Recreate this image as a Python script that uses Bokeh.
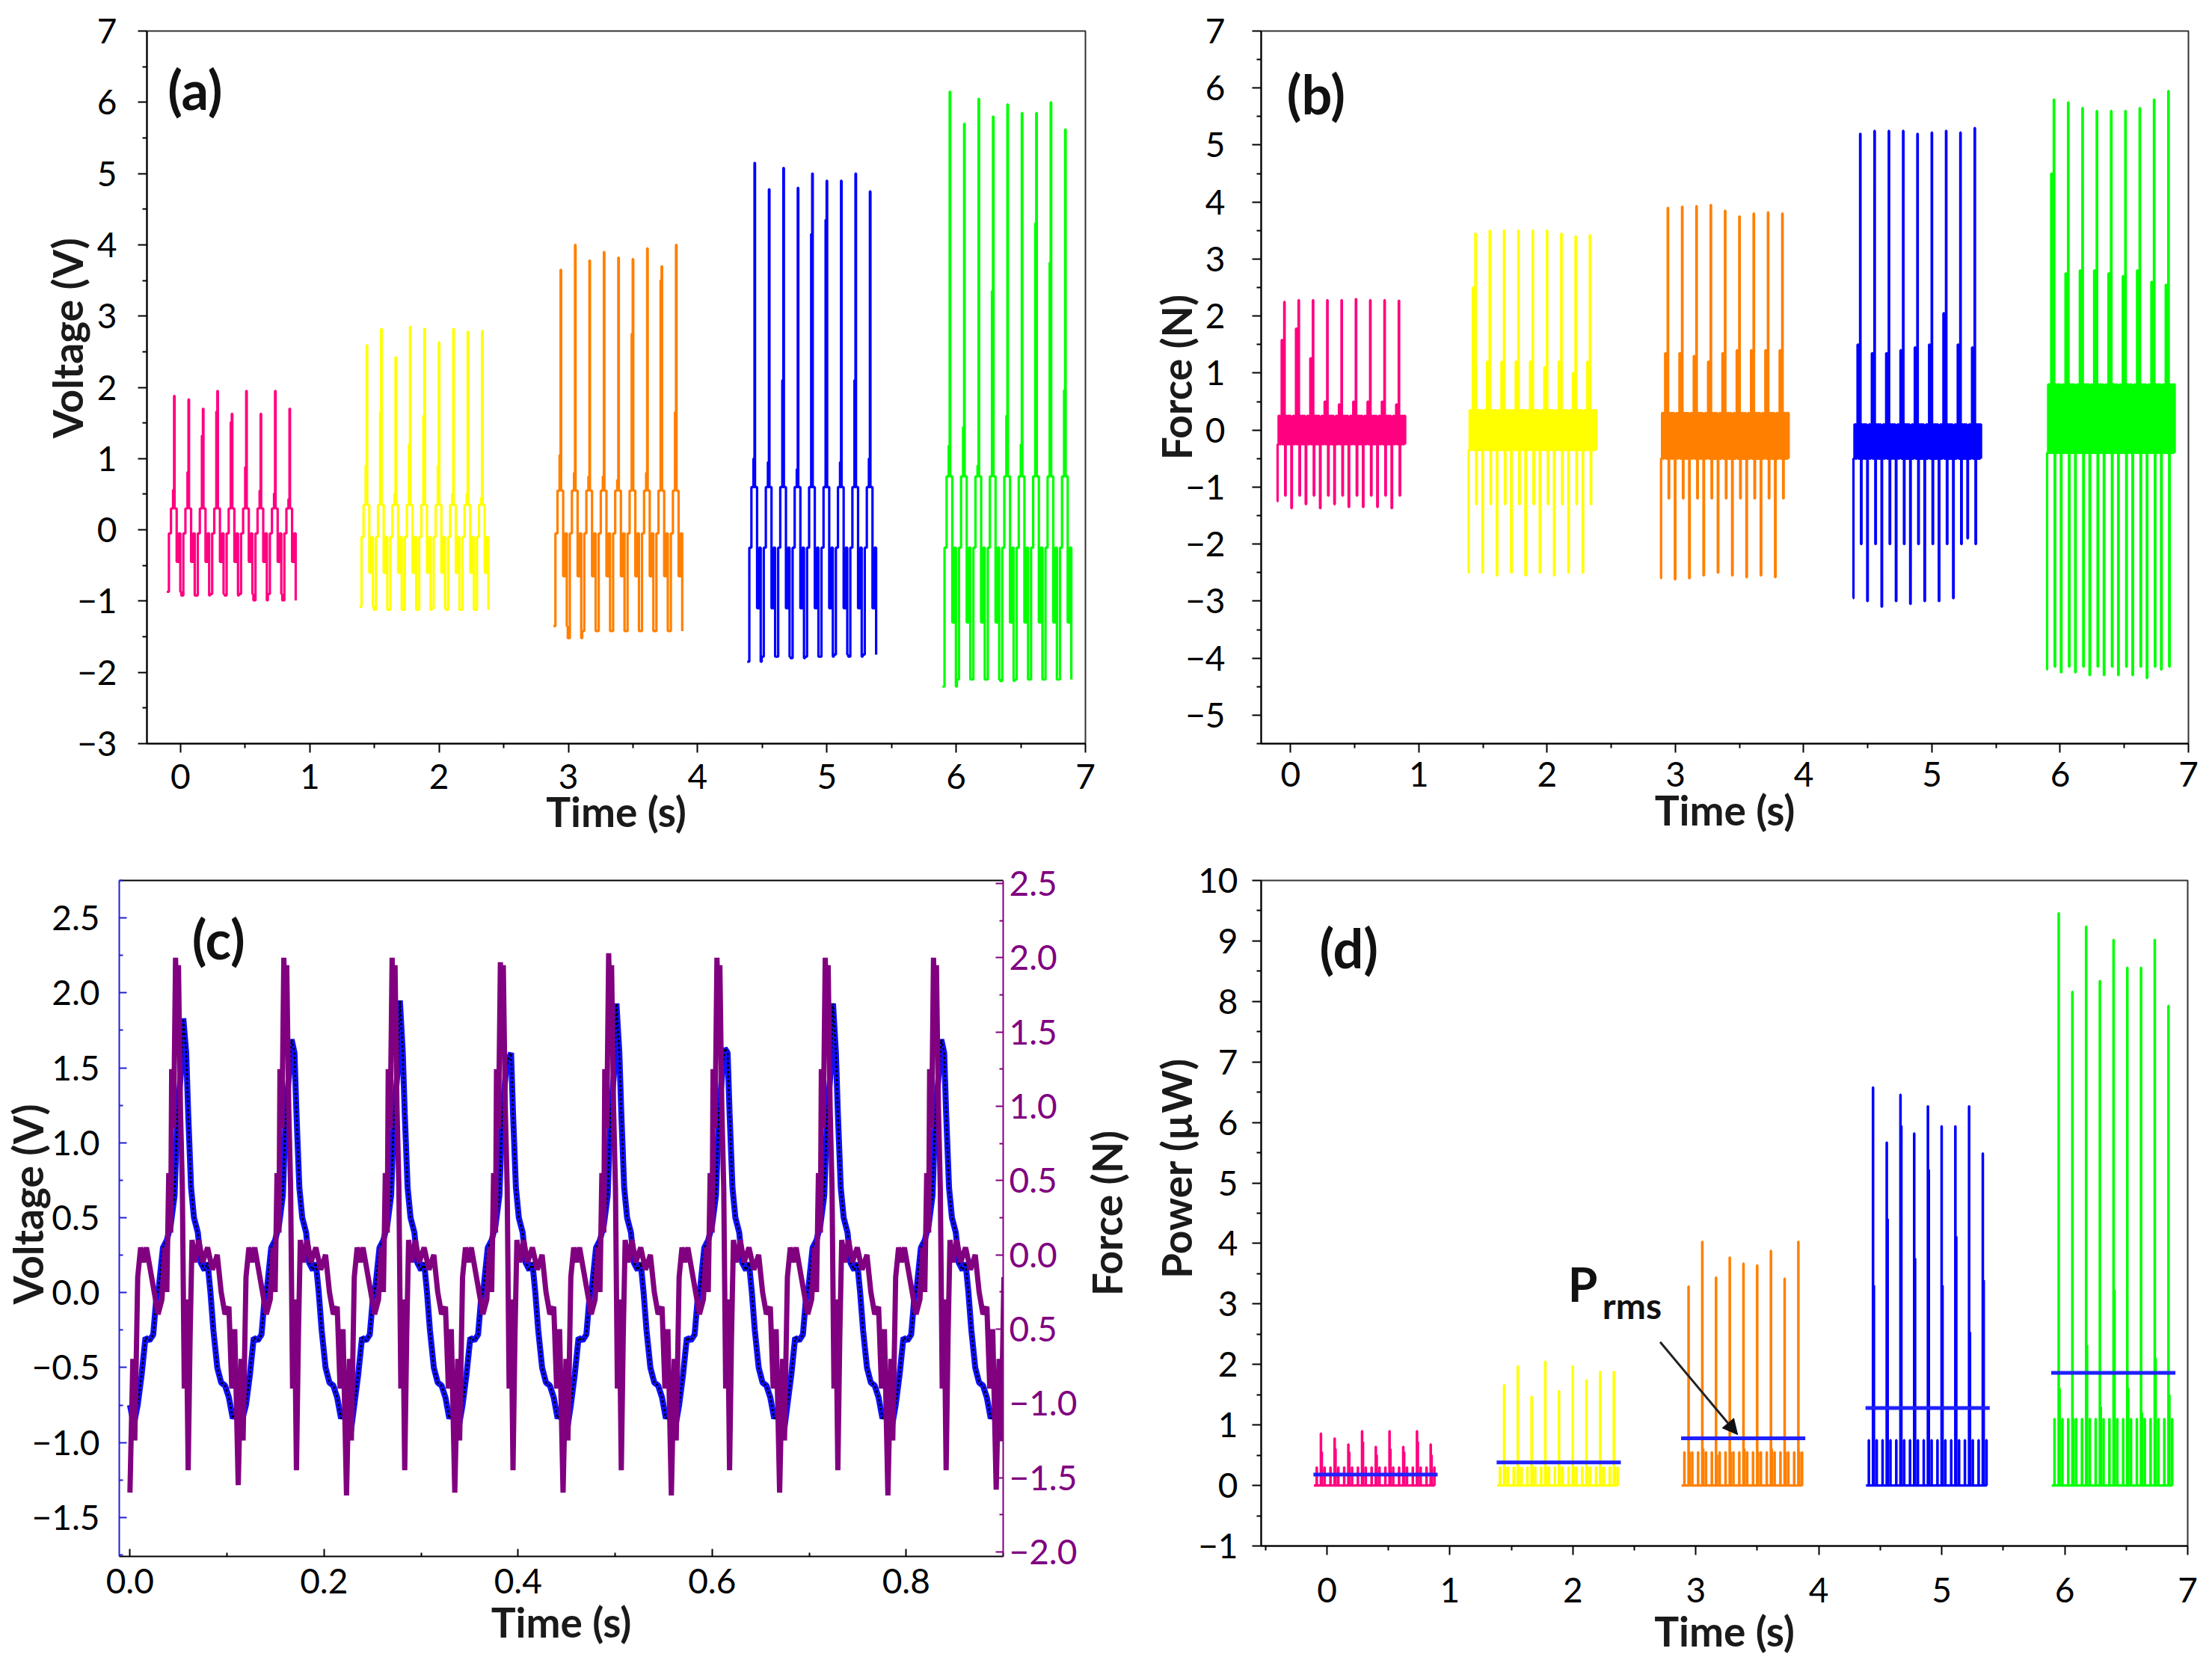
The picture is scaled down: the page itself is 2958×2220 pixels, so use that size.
from bokeh.plotting import figure
from bokeh.layouts import column, row
from bokeh.models import Range1d, LinearAxis, FixedTicker, Label, Arrow, NormalHead
from bokeh.embed import file_html
from bokeh.resources import INLINE

FONT = "Lato"
NB = "\u00a0"  # padding to move an axis title off the frame centre

# five loading sets, same timing in (a), (b) and (d)
set_start = [-0.10, 1.39, 2.89, 4.39, 5.90]
period = 0.1116
set_colors = ["#ff0080", "#ffff00", "#ff8000", "#0000ff", "#00ff00"]

# (a) voltage, per cycle: spike top, secondary top, trough; per set: band levels
a_peak = [
    [1.88, 1.83, 1.70, 1.95, 1.63, 1.95, 1.63, 1.95, 1.70],
    [2.59, 2.82, 2.42, 2.85, 2.82, 2.63, 2.82, 2.78, 2.79],
    [3.65, 4.00, 3.78, 3.90, 3.82, 3.80, 3.95, 3.70, 4.00],
    [5.15, 4.78, 5.08, 4.80, 5.00, 4.90, 4.90, 5.00, 4.75],
    [6.15, 5.70, 6.05, 5.80, 5.97, 5.85, 5.85, 6.00, 5.62],
]
a_second = [
    [0.56, 0.81, 1.32, 1.66, 1.51, 0.88, 0.55, 0.51, 0.43],
    [0.90, 1.65, 0.50, 1.20, 1.60, 0.90, 0.50, 0.50, 0.45],
    [1.05, 0.80, 0.75, 0.75, 0.70, 2.75, 0.80, 3.50, 1.65],
    [1.00, 0.95, 2.10, 0.85, 4.15, 4.35, 0.95, 2.10, 1.00],
    [1.18, 1.44, 0.90, 3.35, 1.60, 1.20, 4.30, 3.75, 1.96],
]
a_trough = [
    [-0.87, -0.92, -0.92, -0.90, -0.92, -0.90, -0.99, -0.90, -0.99],
    [-1.08, -1.12, -1.12, -1.12, -1.12, -1.10, -1.12, -1.12, -1.12],
    [-1.35, -1.52, -1.42, -1.42, -1.42, -1.42, -1.42, -1.42, -1.42],
    [-1.85, -1.78, -1.78, -1.80, -1.78, -1.78, -1.75, -1.78, -1.75],
    [-2.20, -2.10, -2.10, -2.10, -2.12, -2.10, -2.10, -2.10, -2.10],
]
a_upper = [0.30, 0.35, 0.55, 0.60, 0.75]
a_mid = [-0.05, -0.10, -0.05, -0.25, -0.25]
a_lower = [-0.45, -0.60, -0.65, -1.10, -1.30]

# (b) force
b_peak = [
    [2.25, 2.28, 2.28, 2.28, 2.28, 2.30, 2.28, 2.28, 2.27],
    [3.45, 3.50, 3.50, 3.50, 3.50, 3.50, 3.45, 3.40, 3.42],
    [3.90, 3.92, 3.93, 3.95, 3.85, 3.75, 3.80, 3.82, 3.80],
    [5.20, 5.25, 5.25, 5.25, 5.20, 5.22, 5.25, 5.22, 5.30],
    [5.80, 5.75, 5.65, 5.60, 5.60, 5.60, 5.65, 5.80, 5.95],
]
b_second = [
    [1.58, 1.78, 1.26, 0.50, 0.45, 0.50, 0.50, 0.50, 0.45],
    [2.50, 1.20, 1.20, 1.20, 1.20, 1.10, 1.20, 1.00, 1.20],
    [1.35, 1.35, 1.30, 1.20, 1.35, 1.40, 1.40, 1.40, 1.40],
    [1.50, 1.35, 1.35, 1.40, 1.45, 1.50, 2.05, 1.50, 1.45],
    [4.50, 2.75, 2.80, 2.80, 2.75, 2.70, 2.80, 2.60, 2.55],
]
b_dip = [
    [-1.25, -1.37, -1.30, -1.37, -1.30, -1.35, -1.35, -1.35, -1.37],
    [-2.50, -2.50, -2.55, -2.50, -2.55, -2.50, -2.55, -2.50, -2.50],
    [-2.60, -2.62, -2.60, -2.55, -2.50, -2.55, -2.58, -2.55, -2.58],
    [-2.95, -3.00, -3.10, -3.00, -3.05, -3.00, -3.00, -2.95, -1.90],
    [-4.20, -4.25, -4.25, -4.30, -4.30, -4.30, -4.30, -4.35, -4.20],
]
b_dip2 = [-1.15, -1.30, -1.20, -2.00, -4.15]
b_band_hi = [0.25, 0.35, 0.30, 0.10, 0.80]
b_band_lo = [-0.25, -0.35, -0.50, -0.50, -0.40]

# (d) power
d_peak = [
    [0.86, 0.78, 0.68, 0.90, 0.64, 0.90, 0.64, 0.90, 0.68],
    [1.66, 1.97, 1.47, 2.05, 1.56, 1.97, 1.74, 1.88, 1.88],
    [3.29, 4.03, 3.44, 3.77, 3.67, 3.64, 3.88, 3.42, 4.03],
    [6.58, 5.67, 6.46, 5.82, 6.27, 5.94, 5.94, 6.27, 5.49],
    [9.46, 8.16, 9.24, 8.34, 9.02, 8.56, 8.56, 9.02, 7.93],
]
d_second = [
    [0.55, 0.60, 0.55, 0.72, 0.50, 0.60, 0.55, 0.72, 0.50],
    [0.30, 0.30, 0.30, 0.30, 0.30, 0.30, 0.30, 0.30, 0.30],
    [0.55, 0.60, 0.50, 0.55, 0.60, 0.55, 0.60, 0.55, 0.55],
    [3.30, 4.40, 5.94, 3.75, 5.22, 3.30, 4.11, 2.53, 3.39],
    [1.60, 1.10, 2.32, 1.30, 3.23, 1.60, 1.20, 2.10, 1.50],
]
d_band = [0.30, 0.30, 0.55, 0.75, 1.10]
p_rms = [0.18, 0.38, 0.78, 1.28, 1.86]

# (c) first set in detail: one cycle of voltage / force, then per-cycle extremes
c_volt_dt = [0.000, 0.004, 0.008, 0.012, 0.016, 0.020, 0.024, 0.027, 0.030, 0.034,
             0.038, 0.042, 0.046, 0.049, 0.053, 0.055, 0.058, 0.060, 0.063, 0.066,
             0.070, 0.073, 0.077, 0.080, 0.083, 0.086, 0.090, 0.094, 0.098, 0.102,
             0.106, 0.109]
c_volt_shape = [-0.75, -0.88, -0.75, -0.55, -0.30, -0.32, -0.28, -0.05, 0.05, 0.30,
                0.35, 0.45, 0.65, 1.20, 1.50, 1.80, 1.60, 1.20, 0.70, 0.50,
                0.40, 0.20, 0.15, 0.20, 0.00, -0.25, -0.50, -0.60, -0.62, -0.70,
                -0.84, -0.80]
c_force_dt = [0.000, 0.003, 0.005, 0.008, 0.011, 0.014, 0.017, 0.021, 0.025, 0.029,
              0.033, 0.036, 0.038, 0.040, 0.042, 0.043, 0.045, 0.047, 0.049, 0.050,
              0.052, 0.054, 0.056, 0.058, 0.060, 0.062, 0.064, 0.067, 0.071, 0.075,
              0.080, 0.085, 0.090, 0.094, 0.098, 0.102, 0.105, 0.108]
c_force_shape = [-1.60, -0.70, -1.25, -0.15, 0.05, -0.05, 0.05, -0.10, -0.25, -0.40,
                 -0.30, 0.05, -0.25, 0.55, 0.15, 1.25, 0.85, 2.00, 1.45, 1.95,
                 1.00, 0.45, -0.90, -0.30, -1.45, -0.55, 0.10, -0.05, 0.10, -0.05,
                 0.05, -0.10, 0.00, -0.25, -0.40, -0.35, -0.90, -0.50]
c_volt_peak = [1.83, 1.69, 1.95, 1.55, 1.93, 1.63, 1.93, 1.69, 1.70]
c_volt_trough = [-0.88, -0.85, -0.95, -0.90, -0.92, -0.90, -0.95, -0.90, -0.90]
c_force_peak = [2.00, 2.00, 2.00, 1.97, 2.03, 2.00, 2.00, 2.00, 2.00]
c_force_trough = [-1.60, -1.55, -1.62, -1.60, -1.60, -1.62, -1.60, -1.62, -1.58]


def minus(v, d=0):
    s = f"{abs(v):.{d}f}"
    return ("\u2212" + s) if v < 0 else s


def make_fig(xr, yr, fw, fh, bl, br, bt, bb):
    p = figure(frame_width=fw, frame_height=fh, x_range=Range1d(*xr), y_range=Range1d(*yr),
               min_border_left=bl, min_border_right=br, min_border_top=bt, min_border_bottom=bb,
               output_backend="svg", toolbar_location=None)
    p.grid.visible = False
    p.outline_line_color = "#333333"
    p.outline_line_width = 2
    return p


def title_style(ax, label, als):
    ax.axis_label = label
    ax.axis_label_text_font = FONT
    ax.axis_label_text_font_size = "55px"
    ax.axis_label_text_font_style = "bold"
    ax.axis_label_text_color = "#1a1a1a"
    ax.axis_label_standoff = als


def style_axis(ax, label, ticks, minor, d=0, tick_out=12, tick_in=0, mls=10, als=5,
               line_color="black", label_color="black", overrides=None):
    ax.ticker = FixedTicker(ticks=ticks, minor_ticks=minor)
    ax.major_label_overrides = overrides if overrides else {t: minus(t, d) for t in ticks}
    if label:
        title_style(ax, label, als)
    ax.major_label_text_font = FONT
    ax.major_label_text_font_size = "46px"
    ax.major_label_text_color = label_color
    ax.major_label_standoff = mls
    ax.axis_line_color = line_color
    ax.axis_line_width = 2
    ax.major_tick_line_color = line_color
    ax.minor_tick_line_color = line_color
    ax.major_tick_line_width = 2
    ax.minor_tick_line_width = 2
    ax.major_tick_out = tick_out
    ax.major_tick_in = tick_in
    ax.minor_tick_out = tick_out // 2
    ax.minor_tick_in = tick_in // 2


def panel_label(p, x, y, text):
    p.add_layout(Label(x=x, y=y, text=text, text_font=FONT, text_font_size="72px",
                       text_font_style="bold", text_baseline="top", text_color="#111111"))


def cycles(g, pattern_fn):
    xs, ys = [], []
    for k in range(9):
        t = set_start[g] + 0.05 + k * period
        for dt, v in pattern_fn(g, k):
            xs.append(t + dt)
            ys.append(v)
    return xs, ys


def pat_a(g, k):
    T, S, P = a_trough[g][k], a_second[g][k], a_peak[g][k]
    U, M, L = a_upper[g], a_mid[g], a_lower[g]
    return [(-0.056, T), (-0.040, M), (-0.024, U), (-0.008, S), (0.0, P), (0.004, U),
            (0.020, L), (0.036, M), (0.048, T)]


def pat_b(g, k):
    D, S, P = b_dip[g][k], b_second[g][k], b_peak[g][k]
    HI, LO, D2 = b_band_hi[g], b_band_lo[g], b_dip2[g]
    return [(-0.056, D), (-0.052, LO), (-0.044, HI), (-0.036, LO), (-0.028, HI), (-0.020, S),
            (-0.014, LO), (-0.006, HI), (0.0, P), (0.003, LO), (0.007, D2), (0.011, HI),
            (0.019, LO), (0.027, HI), (0.035, LO), (0.043, HI), (0.050, LO)]


def pat_d(g, k):
    S, P, BT = d_second[g][k], d_peak[g][k], d_band[g]
    return [(-0.056, 0.0), (-0.034, BT), (-0.032, 0.0), (0.0, P), (0.002, 0.0),
            (0.007, S), (0.009, 0.0), (0.030, BT), (0.032, 0.0)]


int_x = list(range(0, 8))
half_x = [i + 0.5 for i in range(-1, 7)]

# ---- (a) voltage
pa = make_fig((-0.26, 7), (-3, 7), 1255, 953, 196, 19, 41, 108)
for g in range(5):
    xs, ys = cycles(g, pat_a)
    pa.step(xs, ys, mode="after", line_color=set_colors[g], line_width=3.2)
style_axis(pa.below[0], "Time (s)", int_x, half_x, mls=15, als=-6)
style_axis(pa.left[0], NB * 10 + "Voltage (V)", list(range(-3, 8)),
           [i + 0.5 for i in range(-3, 7)], mls=28, als=-23)
panel_label(pa, -0.10, 6.64, "(a)")

# ---- (b) force
pb = make_fig((-0.23, 7), (-5.5, 7), 1240, 953, 216, 14, 41, 108)
for g in range(5):
    xs, ys = cycles(g, pat_b)
    pb.step(xs, ys, mode="after", line_color=set_colors[g], line_width=3.2)
style_axis(pb.below[0], "Time (s)", int_x, half_x, mls=12, als=-5)
style_axis(pb.left[0], NB * 2 + "Force (N)", list(range(-5, 8)),
           [i + 0.5 for i in range(-6, 7)], mls=36, als=-24)
panel_label(pb, -0.03, 6.47, "(b)")

# ---- (c) voltage and force of the first set
pc = make_fig((-0.011, 0.9), (-1.76, 2.75), 1182, 904, 150, 100, 57, 141)
pc.outline_line_color = None
pc.extra_y_ranges = {"force": Range1d(-2.03, 2.52)}
vx, vy, fx, fy = [], [], [], []
v_pk, v_tr = c_volt_shape.index(max(c_volt_shape)), c_volt_shape.index(min(c_volt_shape))
f_pk, f_tr = c_force_shape.index(max(c_force_shape)), c_force_shape.index(min(c_force_shape))
for k in range(9):
    t0 = k * period
    for i, (dt, v) in enumerate(zip(c_volt_dt, c_volt_shape)):
        if t0 + dt > 0.902:
            break
        v = c_volt_peak[k] if i == v_pk else (c_volt_trough[k] if i == v_tr else v)
        vx.append(t0 + dt)
        vy.append(v)
    for i, (dt, v) in enumerate(zip(c_force_dt, c_force_shape)):
        if t0 + dt > 0.902:
            break
        v = c_force_peak[k] if i == f_pk else (c_force_trough[k] if i == f_tr else v)
        fx.append(t0 + dt)
        fy.append(v)
pc.line(vx, vy, line_color="#1010ff", line_width=8)
pc.line(vx, vy, line_color="black", line_width=2.5, line_dash="3 3")
pc.line(fx, fy, line_color="#800080", line_width=7, y_range_name="force")

c_x_ticks = [0.0, 0.2, 0.4, 0.6, 0.8]
style_axis(pc.below[0], "Time (s)", c_x_ticks, [0.1, 0.3, 0.5, 0.7, 0.9], d=1,
           tick_out=0, tick_in=10, mls=16, als=2)
c_y_ticks = [-1.5, -1.0, -0.5, 0.0, 0.5, 1.0, 1.5, 2.0, 2.5]
style_axis(pc.left[0], NB * 3 + "Voltage (V)", c_y_ticks, [-1.75, -1.25, -0.75, -0.25, 0.25,
           0.75, 1.25, 1.75, 2.25, 2.75], d=1, tick_out=0, tick_in=10, mls=26, als=-30,
           line_color="#2020d0")
rax = LinearAxis(y_range_name="force")
pc.add_layout(rax, "right")
c_r_ticks = [-2.0, -1.5, -1.0, -0.5, 0.0, 0.5, 1.0, 1.5, 2.0, 2.5]
c_r_labels = {t: minus(t, 1) for t in c_r_ticks}
c_r_labels[-0.5] = "0.5"
style_axis(rax, None, c_r_ticks, [-1.75, -1.25, -0.75, -0.25, 0.25, 0.75, 1.25, 1.75, 2.25],
           d=1, tick_out=0, tick_in=10, mls=8, line_color="#800080",
           label_color="#800080", overrides=c_r_labels)
# plain black top spine
top_ax = LinearAxis(ticker=FixedTicker(ticks=[]), major_label_text_font_size="0px",
                    major_tick_in=0, major_tick_out=0, minor_tick_in=0, minor_tick_out=0,
                    axis_line_color="black", axis_line_width=2)
pc.add_layout(top_ax, "above")
panel_label(pc, 0.064, 2.58, "(c)")

# ---- (d) power
pd_ = make_fig((-0.535, 7), (-1, 10), 1239, 890, 243, 30, 52, 160)
for g in range(5):
    xs, ys = cycles(g, pat_d)
    pd_.step(xs, ys, mode="after", line_color=set_colors[g], line_width=3.2)
    pd_.line([set_start[g] - 0.01, set_start[g] + 1.0], [p_rms[g], p_rms[g]],
             line_color="#2020ff", line_width=5)
style_axis(pd_.below[0], "Time (s)", int_x, half_x, mls=30, als=2)
style_axis(pd_.left[0], NB * 9 + "Power (\u00b5W)", list(range(-1, 11)),
           [i + 0.5 for i in range(-1, 10)], mls=19, als=-7)
# the right-hand title of (c) sits in the gap between the two panels, read bottom to top
force_title_ax = LinearAxis(ticker=FixedTicker(ticks=[]), bounds=(0.34, 10),
                            axis_line_color=None, major_tick_in=0, major_tick_out=0,
                            minor_tick_in=0, minor_tick_out=0, major_label_standoff=0,
                            major_label_text_font_size="0px")
title_style(force_title_ax, "Force (N)", 25)
pd_.add_layout(force_title_ax, "left")
panel_label(pd_, -0.06, 9.42, "(d)")
pd_.add_layout(Label(x=1.96, y=2.86, text="P", text_font=FONT, text_font_size="64px",
                     text_font_style="bold", text_color="#111111"))
pd_.add_layout(Label(x=2.24, y=2.63, text="rms", text_font=FONT, text_font_size="48px",
                     text_font_style="bold", text_color="#111111"))
pd_.add_layout(Arrow(x_start=2.71, y_start=2.37, x_end=3.34, y_end=0.84, line_width=3,
                     line_color="#222222",
                     end=NormalHead(size=20, fill_color="#111111", line_color="#111111")))

layout = column(row(pa, pb), row(pc, pd_))
open("out.html", "w").write(file_html(layout, INLINE))
